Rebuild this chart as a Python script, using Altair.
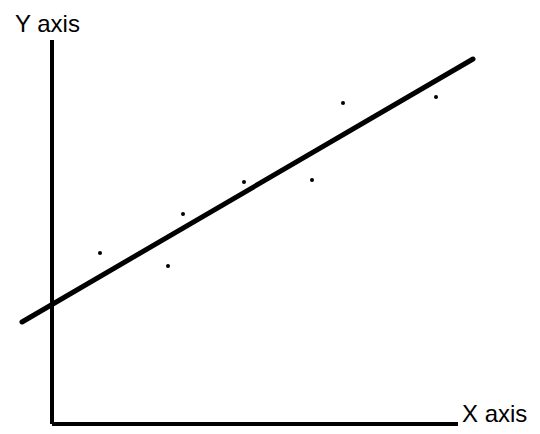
import altair as alt
import pandas as pd

# scatter points
px = [1.2, 2.9, 3.275, 4.8, 6.5, 7.275, 9.6]
py = [4.275, 3.95, 5.25, 6.05, 6.1, 8.025, 8.175]

# fitted line endpoints
lx = [-0.75, 10.525]
ly = [2.55, 9.125]

# axis lines (drawn as marks)
ax_x = [0, 0]
ax_y = [0, 9.6]
bx_x = [0, 10.15]
bx_y = [0, 0]

# labels
lab_text = ["Y axis", "X axis"]
lab_x = [-0.925, 10.25]
lab_y = [9.8, 0.05]

xs = alt.Scale(domain=[-1.1, 12.0], nice=False, zero=False)
ys = alt.Scale(domain=[-0.05, 10.4], nice=False, zero=False)

pts = pd.DataFrame({"x": px, "y": py})
fit = pd.DataFrame({"x": lx, "y": ly})
yaxis = pd.DataFrame({"x": ax_x, "y": ax_y})
xaxis = pd.DataFrame({"x": bx_x, "y": bx_y})
labs = pd.DataFrame({"t": lab_text, "x": lab_x, "y": lab_y})

X = alt.X("x:Q", scale=xs, axis=None)
Y = alt.Y("y:Q", scale=ys, axis=None)

yline = alt.Chart(yaxis).mark_line(color="black", strokeWidth=4, strokeCap="butt").encode(x=X, y=Y)
xline = alt.Chart(xaxis).mark_line(color="black", strokeWidth=4, strokeCap="butt").encode(x=X, y=Y)
fitline = alt.Chart(fit).mark_line(color="black", strokeWidth=5, strokeCap="round").encode(x=X, y=Y)
dots = alt.Chart(pts).mark_circle(color="black", size=16, opacity=1).encode(x=X, y=Y)
texts = alt.Chart(labs).mark_text(
    font="Liberation Sans", fontSize=24, align="left", baseline="alphabetic", color="black"
).encode(x=X, y=Y, text="t:N")

chart = alt.layer(yline, xline, fitline, dots, texts).properties(
    width=524, height=418, padding=0, autosize=alt.AutoSizeParams(type="none")
).configure_view(stroke=None)

chart.save("out.html", embed_options={"renderer": "svg", "actions": False})
